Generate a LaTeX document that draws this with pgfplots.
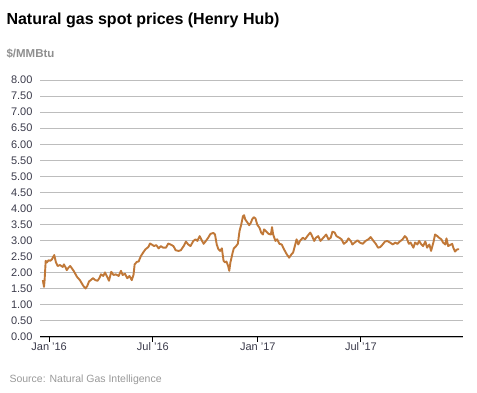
\documentclass[border=0pt]{standalone}
\usepackage{fontspec}
\setmainfont{Liberation Sans}
\usepackage{pgfplots}
\pgfplotsset{compat=1.18}
\definecolor{gasline}{HTML}{C07838}
\definecolor{gridc}{HTML}{BDBDBD}
\definecolor{ticktext}{HTML}{3A3A4A}
\definecolor{unitc}{HTML}{8F8F8F}
\definecolor{srcc}{HTML}{999999}
\begin{document}
\begin{tikzpicture}[x=1pt,y=1pt]
\useasboundingbox (0,0) rectangle (477,393);
\node[anchor=base west,font=\fontsize{16}{18}\selectfont\bfseries] at (3,368) {Natural gas spot prices (Henry Hub)};
\node[anchor=base west,font=\fontsize{11.5}{13}\selectfont\bfseries,text=unitc] at (3,335) {\$/MMBtu};
\node[anchor=base west,font=\fontsize{10.5}{12}\selectfont,text=srcc] at (6,10) {Source: Natural Gas Intelligence};
\begin{axis}[
  at={(40pt,56pt)}, anchor=south west,
  scale only axis, width=423pt, height=257pt,
  xmin=-16, xmax=726, ymin=0, ymax=8,
  axis line style={draw=none},
  axis x line*=bottom,
  x axis line style={draw=black, line width=1pt},
  ytick={0,0.5,...,8},
  yticklabels={0.00,0.50,1.00,1.50,2.00,2.50,3.00,3.50,4.00,4.50,5.00,5.50,6.00,6.50,7.00,7.50,8.00},
  xtick={0,182,366,547},
  xticklabels={Jan '16,Jul '16,Jan '17,Jul '17},
  ymajorgrids, grid style={gridc, line width=0.9pt},
  major y tick style={draw=none},
  major x tick style={black, line width=1pt},
  xtick align=outside, tick align=outside, major tick length=5pt,
  ticklabel style={font=\fontsize{11}{12}\selectfont, text=ticktext},
  /pgf/number format/assume math mode=true,
  yticklabel style={xshift=1pt},
  xticklabel style={yshift=3pt},
  clip=false,
]
\addplot[gasline, line width=1.9pt, line join=round] coordinates {
(-11,1.77)(-9,1.56)(-8,1.75)(-6,2.37)(-4,2.32)(-1,2.39)(2,2.37)(5,2.42)(8,2.52)(9,2.55)
(12,2.32)(15,2.21)(19,2.24)(24,2.18)(26,2.26)(29,2.16)(31,2.08)(34,2.16)(37,2.21)(43,2.06)
(49,1.87)(54,1.77)(60,1.59)(64,1.51)(67,1.59)(70,1.73)(73,1.77)(77,1.83)(81,1.77)(85,1.75)
(88,1.83)(91,1.95)(95,1.90)(98,2.01)(102,1.87)(105,1.75)(109,2.03)(113,1.93)(117,1.95)(122,1.90)
(126,2.06)(129,1.93)(133,1.97)(137,1.83)(141,1.90)(145,1.77)(148,1.93)(150,2.26)(154,2.34)(157,2.35)
(161,2.52)(165,2.63)(169,2.73)(174,2.80)(177,2.91)(180,2.88)(184,2.83)(188,2.86)(192,2.76)(196,2.83)
(200,2.78)(205,2.78)(209,2.91)(213,2.88)(218,2.83)(222,2.70)(227,2.68)(231,2.70)(236,2.83)(240,2.97)
(244,2.88)(248,2.83)(253,2.99)(257,3.04)(260,2.99)(264,3.14)(267,3.04)(271,2.90)(275,2.99)(279,3.09)
(283,3.21)(288,3.24)(291,3.19)(294,2.88)(297,2.73)(300,2.68)(303,2.76)(304,2.63)(306,2.37)(309,2.32)
(311,2.35)(314,2.21)(316,2.06)(318,2.32)(322,2.63)(324,2.76)(328,2.83)(331,2.90)(334,3.30)(337,3.50)
(340,3.76)(342,3.79)(344,3.66)(348,3.56)(351,3.48)(354,3.56)(356,3.66)(359,3.73)(362,3.69)(365,3.50)
(369,3.40)(372,3.25)(375,3.19)(377,3.35)(380,3.30)(385,3.21)(389,3.19)(391,3.42)(393,3.19)(397,2.99)
(400,3.04)(404,2.90)(408,2.88)(412,2.73)(417,2.57)(421,2.47)(425,2.57)(428,2.63)(431,2.83)(434,3.04)
(437,2.88)(440,2.99)(445,3.09)(449,3.04)(453,3.14)(458,3.25)(460,3.19)(465,2.99)(468,3.09)(472,3.14)
(476,2.99)(481,3.09)(486,3.19)(490,3.04)(494,3.09)(497,3.28)(501,3.25)(504,3.14)(509,3.09)(513,3.04)
(517,2.90)(522,2.97)(525,3.07)(529,2.99)(532,2.88)(536,2.94)(541,3.01)(545,2.94)(550,2.90)(555,2.99)
(560,3.04)(564,3.11)(569,2.99)(573,2.90)(577,2.78)(581,2.80)(585,2.88)(589,2.97)(593,2.99)(598,2.94)
(603,2.88)(607,2.94)(611,2.90)(615,2.97)(620,3.04)(624,3.14)(627,3.09)(631,2.90)(634,2.94)(639,2.78)
(642,2.94)(646,2.88)(649,2.99)(653,2.88)(656,2.83)(660,2.97)(663,2.78)(667,2.88)(670,2.68)(674,2.94)
(677,3.19)(681,3.14)(684,3.09)(688,3.04)(691,2.94)(695,2.88)(697,3.07)(700,2.83)(703,2.86)(707,2.90)
(709,2.78)(712,2.66)(716,2.73)(719,2.73)
};
\end{axis}
\end{tikzpicture}
\end{document}
